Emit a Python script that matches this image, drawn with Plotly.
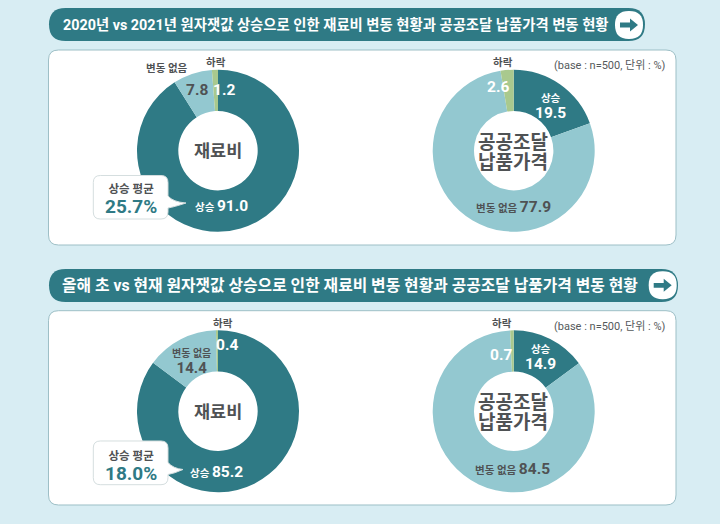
import plotly.graph_objects as go

W, H = 720, 524
FONT = "Roboto, Noto Sans CJK KR"
TEAL, LIGHT, GREEN = "#2f7a85", "#93c8d0", "#a9c98e"
BG, DARK, EDGE = "#d8edf3", "#4f5254", "#9dbfc6"

# Data
categories = ["상승", "변동 없음", "하락"]
material_2021 = [91.0, 7.8, 1.2]
procurement_2021 = [19.5, 77.9, 2.6]
material_now = [85.2, 14.4, 0.4]
procurement_now = [14.9, 84.5, 0.7]
avg_rise_2021 = "25.7%"
avg_rise_now = "18.0%"
title_top = "2020년 vs 2021년 원자잿값 상승으로 인한 재료비 변동 현황과 공공조달 납품가격 변동 현황"
title_bottom = "올해 초 vs 현재 원자잿값 상승으로 인한 재료비 변동 현황과 공공조달 납품가격 변동 현황"
unit_note = "(base : n=500, 단위 : %)"
center_material = "재료비"
center_procurement = ["공공조달", "납품가격"]
callout_label = "상승 평균"


def px(x):
    return x / W


def py(y):
    return 1 - y / H


def pt(x, y):
    return f"{px(x):.5f} {py(y):.5f}"


def rrect(x0, y0, x1, y1, r):
    return (f"M {pt(x0 + r, y0)} L {pt(x1 - r, y0)} Q {pt(x1, y0)} {pt(x1, y0 + r)} "
            f"L {pt(x1, y1 - r)} Q {pt(x1, y1)} {pt(x1 - r, y1)} L {pt(x0 + r, y1)} "
            f"Q {pt(x0, y1)} {pt(x0, y1 - r)} L {pt(x0, y0 + r)} Q {pt(x0, y0)} {pt(x0 + r, y0)} Z")


def callout(x0, y0, x1, y1, r, tx, ty):
    mid = ty - 7
    return (f"M {pt(x0 + r, y0)} L {pt(x1 - r, y0)} Q {pt(x1, y0)} {pt(x1, y0 + r)} "
            f"L {pt(x1, mid)} Q {pt(x1 + 5, ty - 1)} {pt(tx, ty)} Q {pt(x1 + 6, ty + 4)} {pt(x1, ty + 5)} "
            f"L {pt(x1, y1 - r)} Q {pt(x1, y1)} {pt(x1 - r, y1)} L {pt(x0 + r, y1)} "
            f"Q {pt(x0, y1)} {pt(x0, y1 - r)} L {pt(x0, y0 + r)} Q {pt(x0, y0)} {pt(x0 + r, y0)} Z")


def arrow(cx, cy):
    return (f"M {pt(cx - 9, cy - 2.4)} L {pt(cx + 1, cy - 2.4)} L {pt(cx + 1, cy - 6.5)} L {pt(cx + 9, cy)} "
            f"L {pt(cx + 1, cy + 6.5)} L {pt(cx + 1, cy + 2.4)} L {pt(cx - 9, cy + 2.4)} Z")


fig = go.Figure()
R = 81
for vals, name, cx, cy in [
    (material_2021, "material_2021", 218, 150.7),
    (procurement_2021, "procurement_2021", 513.7, 150.7),
    (material_now, "material_now", 218, 411.3),
    (procurement_now, "procurement_now", 513.7, 411.3),
]:
    fig.add_trace(go.Pie(
        labels=categories, values=vals, name=name, hole=0.49, sort=False,
        direction="clockwise", rotation=0, textinfo="none", showlegend=False,
        marker=dict(colors=[TEAL, LIGHT, GREEN], line=dict(width=0)),
        domain=dict(x=[px(cx - R), px(cx + R)], y=[py(cy + R), py(cy - R)]),
    ))

shapes = []


def path(d, fill, line=None, lw=0, layer="below"):
    shapes.append(dict(type="path", xref="paper", yref="paper", path=d, fillcolor=fill,
                       line=dict(color=line or fill, width=lw), layer=layer))


# panels
path(rrect(48.5, 50, 676, 245, 10), "white", EDGE, 1)
path(rrect(48.5, 310.7, 676, 505, 10), "white", EDGE, 1)
# headers
path(rrect(49, 8, 645, 41, 16.5), TEAL)
path(rrect(49, 269, 678, 302, 16.5), TEAL)
for cx, cy in [(629, 25), (662.7, 285.3)]:
    r = 14
    path(rrect(cx - r, cy - r, cx + r, cy + r, r * 0.98), "white")
    path(arrow(cx, cy), TEAL)
# callouts
path(callout(93.3, 175.5, 168, 219, 7, 186, 203), "white", "#d5dedf", 1, "above")
path(callout(93.3, 441, 168, 484.7, 7, 183, 469.5), "white", "#d5dedf", 1, "above")

anns = []


def t(x, y, s, size, color=DARK, bold=True):
    anns.append(dict(xref="paper", yref="paper", x=px(x), y=py(y), xanchor="center", yanchor="middle",
                     text=f"<b>{s}</b>" if bold else s, showarrow=False,
                     font=dict(family=FONT, size=size, color=color)))


def sized(s, size):
    return f"<span style='font-size:{size}px'>{s}</span>"


def stack(x, y, top, bottom, gap, color=DARK, bottom_color=None):
    """Two lines in one text; the base size sets the gap between the lines."""
    b = bottom if bottom_color is None else f"<span style='color:{bottom_color}'>{bottom}</span>"
    t(x, y, f"{top}<br>{b}", gap / 1.3, color)


fmt = "{:.1f}".format
UP, SAME, DOWN = categories
LBL, NUM, BIG = 10.5, 15.5, 19

t(336, 25, title_top, 14.35, "white")
t(349.5, 285.5, title_bottom, 15.8, "white")

# top left
t(166.7, 68.5, SAME, LBL)
t(216, 62, DOWN, LBL)
t(197, 90, fmt(material_2021[1]), NUM)
t(224, 90, fmt(material_2021[2]), NUM, "white")
t(218, 151, center_material, 17.5)
t(221, 205.5, f"{UP} {sized(fmt(material_2021[0]), NUM)}", LBL, "white")
stack(131, 200, sized(callout_label, 11.5), sized(avg_rise_2021, BIG), 20, DARK, TEAL)
# top right
t(503, 62, DOWN, LBL)
t(610, 65.7, unit_note, 11, "#55595b", False)
t(497.7, 87, fmt(procurement_2021[2]), NUM, "white")
stack(550, 106.7, sized(UP, LBL), sized(fmt(procurement_2021[0]), NUM), 16, "white")
stack(513.3, 152.5, sized(center_procurement[0], BIG), sized(center_procurement[1], BIG), 20.3)
t(513.5, 207, f"{SAME} {sized(fmt(procurement_2021[1]), NUM)}", LBL)
# bottom left
t(222.7, 323, DOWN, LBL)
stack(191.7, 362, sized(SAME, 10), sized(fmt(material_now[1]), 15), 16)
t(227, 344.7, fmt(material_now[2]), NUM, "white")
t(218, 412, center_material, 17.5)
t(216.5, 472, f"{UP} {sized(fmt(material_now[0]), NUM)}", LBL, "white")
stack(131, 466.5, sized(callout_label, 11.5), sized(avg_rise_now, BIG), 20, DARK, TEAL)
# bottom right
t(501.7, 323, DOWN, LBL)
t(610, 326, unit_note, 11, "#55595b", False)
t(501, 354.7, fmt(procurement_now[2]), NUM, "white")
stack(540, 358, sized(UP, LBL), sized(fmt(procurement_now[0]), NUM), 16, "white")
stack(513.3, 412.5, sized(center_procurement[0], BIG), sized(center_procurement[1], BIG), 20.3)
t(512.5, 469, f"{SAME} {sized(fmt(procurement_now[1]), NUM)}", LBL)

fig.update_layout(width=W, height=H, margin=dict(l=0, r=0, t=0, b=0), paper_bgcolor=BG,
                  shapes=shapes, annotations=anns, showlegend=False, font=dict(family=FONT))
fig.write_html("out.html", config=dict(displayModeBar=False),
               post_script="document.body.style.margin='0';document.documentElement.style.overflow='hidden';")
